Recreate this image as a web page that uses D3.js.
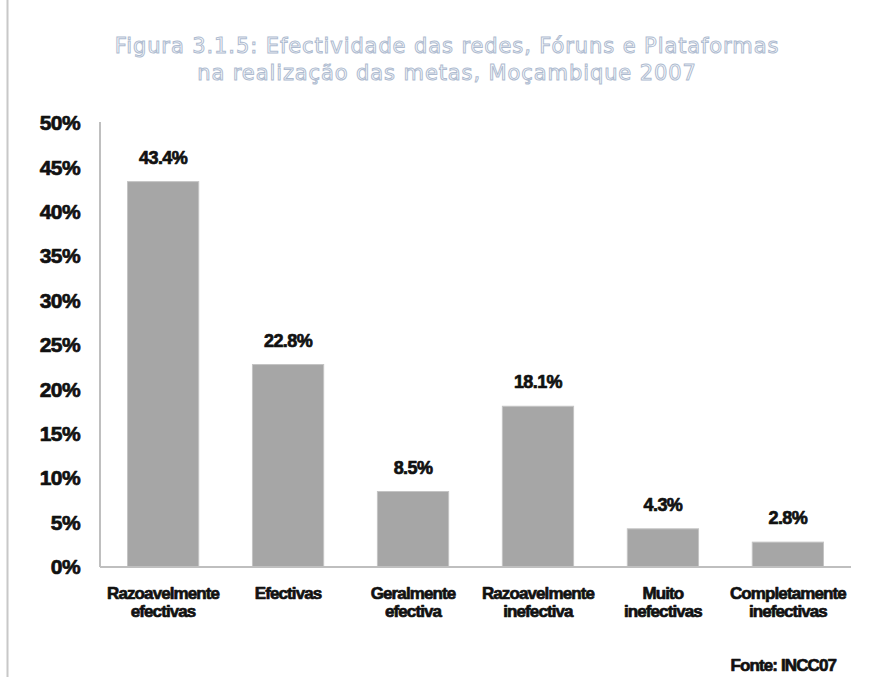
<!DOCTYPE html>
<html>
<head>
<meta charset="utf-8">
<script src="https://cdn.jsdelivr.net/npm/d3@7"></script>
<style>
  html, body { margin: 0; padding: 0; background: #fff; }
  svg { display: block; }
</style>
</head>
<body>
<svg id="chart" width="886" height="677"></svg>
<script>
// Effectiveness of networks, forums and platforms (share of respondents, %)
const categories = [
  ["Razoavelmente", "efectivas"],
  ["Efectivas"],
  ["Geralmente", "efectiva"],
  ["Razoavelmente", "inefectiva"],
  ["Muito", "inefectivas"],
  ["Completamente", "inefectivas"]
];
const values = [43.4, 22.8, 8.5, 18.1, 4.3, 2.8];
const yTicks = [0, 5, 10, 15, 20, 25, 30, 35, 40, 45, 50];
const titleLines = [
  "Figura 3.1.5: Efectividade das redes, Fóruns e Plataformas",
  "na realização das metas, Moçambique 2007"
];
const source = "Fonte: INCC07";

const svg = d3.select("#chart");
const W = 886, H = 677;
const m = { left: 100, right: 35, top: 123, bottom: 110 };
const plotRight = W - m.right;
const baseY = H - m.bottom;

const boldFont = "'Liberation Sans', Arial, sans-serif";

// heavy black label style
function heavy(sel, size, spacing) {
  return sel
    .attr("font-family", boldFont)
    .attr("font-weight", "bold")
    .attr("font-size", size)
    .attr("letter-spacing", spacing)
    .attr("fill", "#111")
    .attr("stroke", "#111")
    .attr("stroke-width", 0.7)
    .attr("stroke-linejoin", "round");
}

// outer frame edge on the left
svg.append("line")
  .attr("x1", 7.5).attr("x2", 7.5).attr("y1", 0).attr("y2", H)
  .attr("stroke", "#c8c8c8").attr("stroke-width", 2);

const x = d3.scaleBand()
  .domain(d3.range(categories.length))
  .range([m.left, plotRight])
  .paddingInner(0.43)
  .paddingOuter(0.22);

const y = d3.scaleLinear().domain([0, 50]).range([baseY, m.top]);

// title
svg.append("g").selectAll("text")
  .data(titleLines)
  .join("text")
  .attr("x", 447)
  .attr("y", (d, i) => 53 + i * 27)
  .attr("text-anchor", "middle")
  .attr("font-family", "'DejaVu Sans', sans-serif")
  .attr("font-size", 21)
  .attr("fill", "#ffffff")
  .attr("stroke", "#aebbd0")
  .attr("stroke-width", 1)
  .attr("letter-spacing", 0.9)
  .text(d => d);

// y axis labels
const yAxis = d3.axisLeft(y).tickValues(yTicks).tickSize(0).tickPadding(20)
  .tickFormat(d => d + "%");
const gy = svg.append("g").attr("transform", `translate(${m.left},0)`).call(yAxis);
gy.select(".domain").remove();
heavy(gy.selectAll("text"), 21, -0.6);

// bars
svg.append("g").selectAll("rect")
  .data(values)
  .join("rect")
  .attr("x", (d, i) => x(i))
  .attr("y", d => y(d))
  .attr("width", x.bandwidth())
  .attr("height", d => baseY - y(d))
  .attr("fill", "#a6a6a6")
  .attr("stroke", "#c4c4c4")
  .attr("stroke-width", 1);

// axis lines
svg.append("line")
  .attr("x1", m.left).attr("x2", m.left).attr("y1", m.top - 1).attr("y2", baseY)
  .attr("stroke", "#bfbfbf").attr("stroke-width", 2);
svg.append("line")
  .attr("x1", m.left).attr("x2", plotRight).attr("y1", baseY).attr("y2", baseY)
  .attr("stroke", "#bfbfbf").attr("stroke-width", 2);

// value labels
heavy(svg.append("g").selectAll("text")
  .data(values)
  .join("text")
  .attr("x", (d, i) => x(i) + x.bandwidth() / 2)
  .attr("y", d => y(d) - 18)
  .attr("text-anchor", "middle")
  .text(d => d.toFixed(1) + "%"), 18, -0.6);

// category labels
const cat = heavy(svg.append("g").selectAll("text")
  .data(categories)
  .join("text")
  .attr("x", (d, i) => x(i) + x.bandwidth() / 2)
  .attr("y", baseY + 32)
  .attr("text-anchor", "middle"), 17, -0.9);
cat.selectAll("tspan")
  .data(d => d)
  .join("tspan")
  .attr("x", function () { return d3.select(this.parentNode).attr("x"); })
  .attr("dy", (d, i) => i === 0 ? 0 : 18)
  .text(d => d);

// source note
heavy(svg.append("text")
  .attr("x", 836).attr("y", 671)
  .attr("text-anchor", "end")
  .text(source), 17, -0.9);
</script>
</body>
</html>
